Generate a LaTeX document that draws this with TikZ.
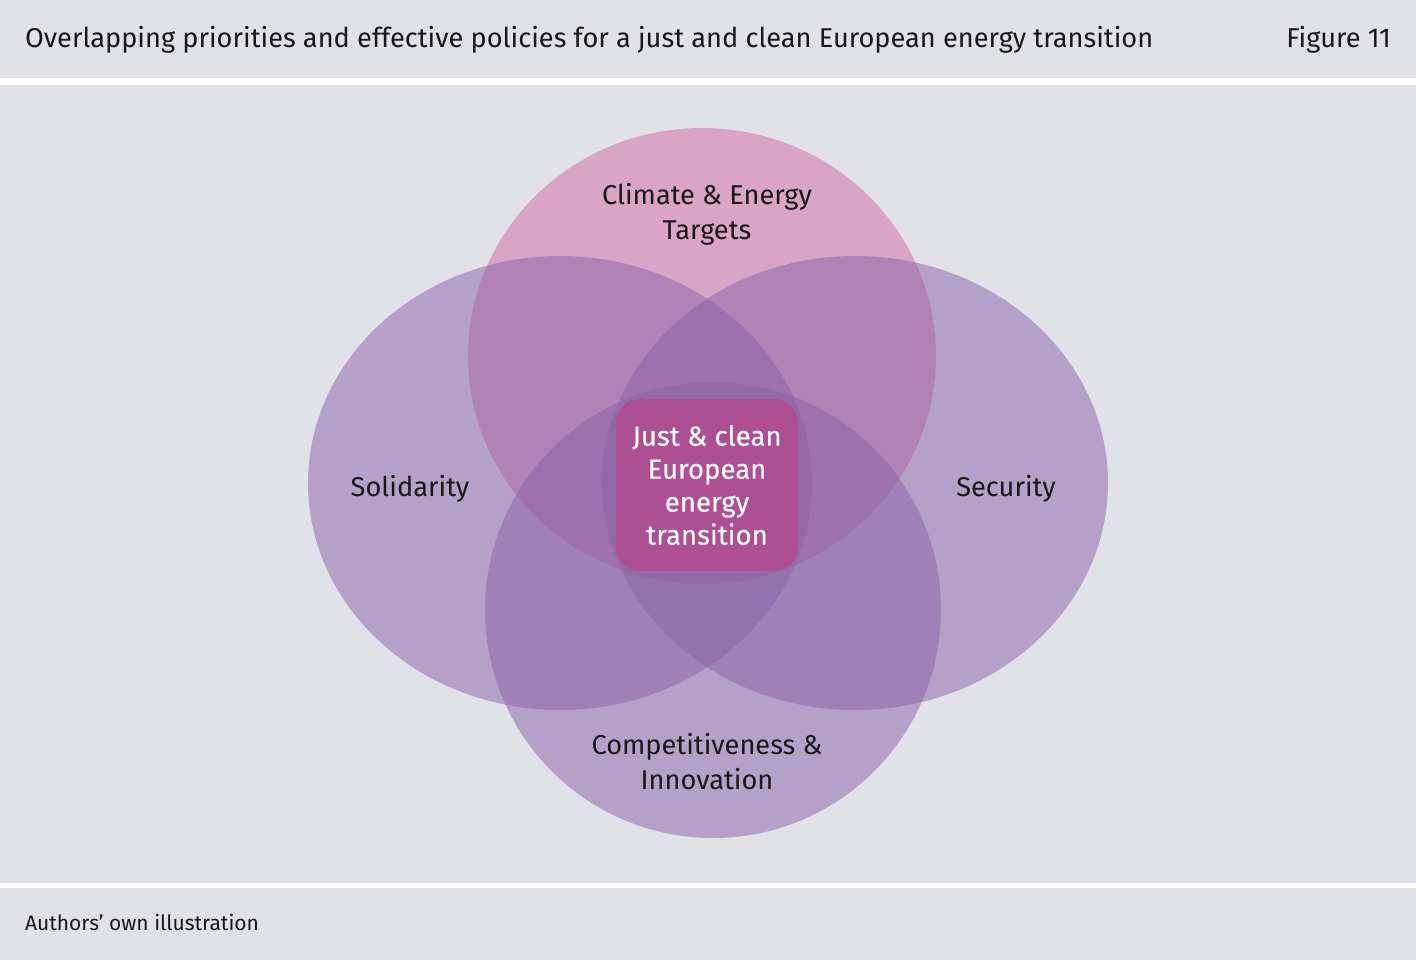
\documentclass[tikz,border=0pt]{standalone}
\usepackage{fontspec}
\setmainfont{Fira Sans}
\usetikzlibrary{positioning}
\definecolor{panel}{HTML}{E1E2E7}
\definecolor{lilac}{HTML}{8A62A8}
\definecolor{rose}{HTML}{D568A7}
\definecolor{core}{HTML}{AE4F93}
\definecolor{ink}{HTML}{161616}

\begin{document}
\begin{tikzpicture}[x=0.5pt, y=-0.5pt,
    venn/.style={fill opacity=0.5},
    label/.style={text=ink, align=center, font=\fontsize{13.6}{17.5}\selectfont},
    heading/.style={text=ink, anchor=west, font=\fontsize{13.6}{16}\selectfont}]
    % Background and bands
    \useasboundingbox (0,0) rectangle (1416,960);
    \fill[panel] (0,0) rectangle (1416,960);
    \fill[white] (0,78) rectangle (1416,85);
    \fill[white] (0,883) rectangle (1416,888);

    % Circles
    \fill[venn, rose] (702,356) ellipse [x radius=117pt, y radius=114pt];
    \fill[venn, lilac] (560,483) ellipse [x radius=126pt, y radius=113.5pt];
    \fill[venn, lilac] (855,483) ellipse [x radius=126.5pt, y radius=113.5pt];
    \fill[venn, lilac] (713,610) ellipse [x radius=114pt, y radius=114pt];

    % Centre
    \node[fill=core, rounded corners=12pt, minimum width=91pt, minimum height=86pt,
          text=white, align=center, font=\fontsize{13.8}{16.5}\selectfont\addfontfeature{FakeBold=0.3}]
          (core) at (707,485) {Just \& clean\\European\\ energy\\transition};

    % Labels
    \node[label] (climate) at (707,214) {Climate \& Energy\\Targets};
    \node[label] (solidarity) at (410,489) {Solidarity};
    \node[label] (security) at (1006,489) {Security};
    \node[label] (compet) at (707,762) {Competitiveness \&\\Innovation};

    % Header and footer
    \node[heading] (title) at (18,40) {Overlapping priorities and effective policies for a just and clean European energy transition};
    \node[heading, anchor=east] (fig) at (1398,40) {Figure 11};
    \node[heading, font=\fontsize{10.5}{13}\selectfont] (source) at (18,922) {Authors’ own illustration};
\end{tikzpicture}
\end{document}
